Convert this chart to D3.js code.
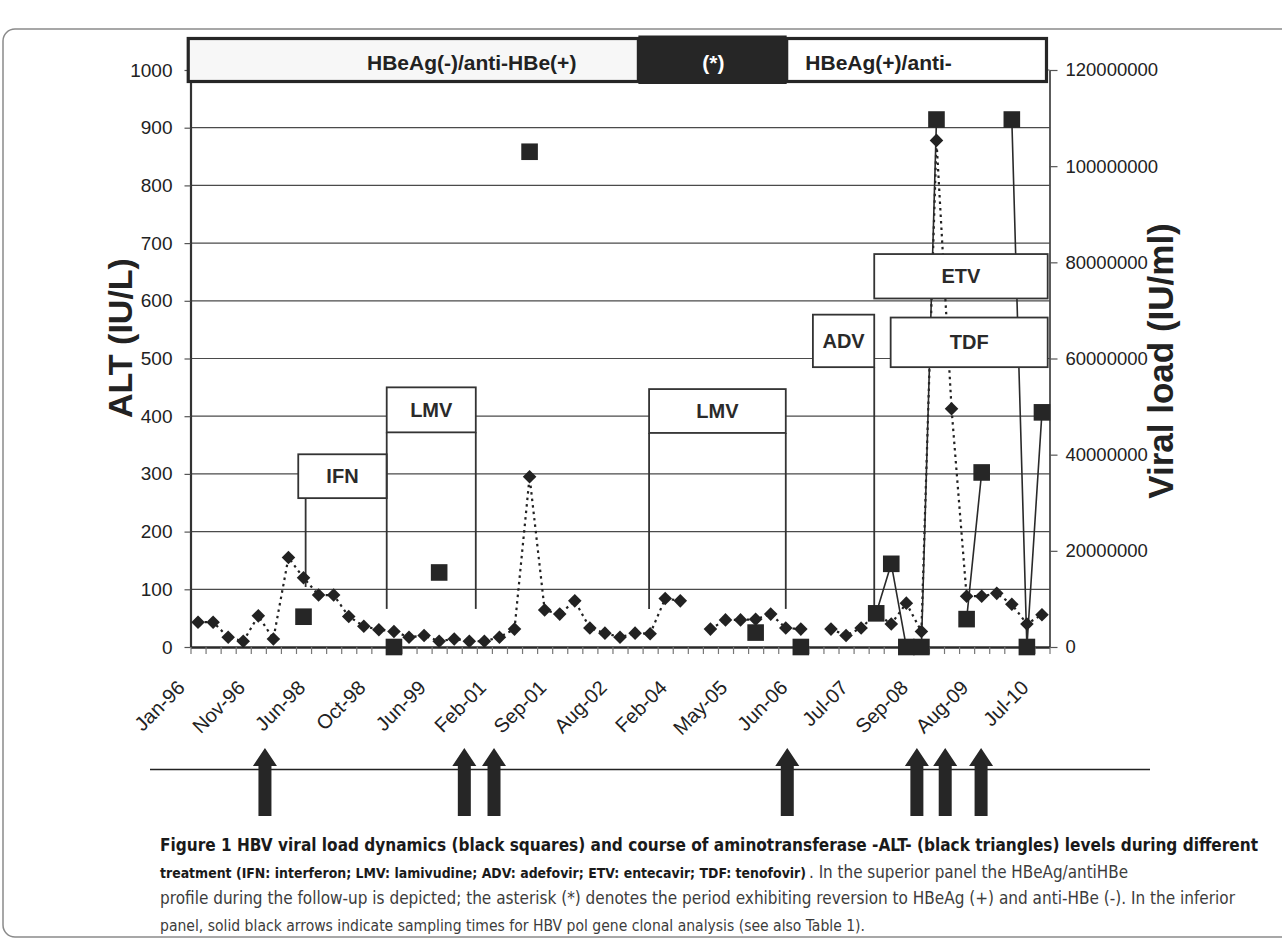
<!DOCTYPE html>
<html>
<head>
<meta charset="utf-8">
<script src="https://cdn.jsdelivr.net/npm/d3@7"></script>
<style>
  body { margin: 0; background: #fff; }
  svg { display: block; }
</style>
</head>
<body>
<script>
// HBV viral load / ALT figure

const tickLabels = ['Jan-96', 'Nov-96', 'Jun-98', 'Oct-98', 'Jun-99', 'Feb-01', 'Sep-01', 'Aug-02',
  'Feb-04', 'May-05', 'Jun-06', 'Jul-07', 'Sep-08', 'Aug-09', 'Jul-10'];
const altValues = [43, 43, 17, 10, 54, 14, 155, 120, 90, 90, 53, 36, 30, 27, 17, 20, 10, 14, 10, 10,
  17, 31, 295, 64, 57, 80, 33, 24, 17, 24, 23, 84, 80, null, 31, 47, 47, 48, 57, 33,
  31, null, 31, 20, 33, 58, 40, 76, 27, 878, 413, 88, 88, 93, 74, 40, 56];
const viralLoad = [null, null, null, null, null, null, null, 6300000, null, null, null, null, null, 0, null, null, 15500000, null, null, null,
  null, null, 103000000, null, null, null, null, null, null, null, null, null, null, null, null, null, null, 3000000, null, null,
  0, null, null, null, null, 7000000, 17300000, 0, 0, 109700000, null, 5800000, 36300000, null, 109700000, 0, 48800000];
const altTicks = [0, 100, 200, 300, 400, 500, 600, 700, 800, 900, 1000];
const vlTicks = [0, 20000000, 40000000, 60000000, 80000000, 100000000, 120000000];

// Treatment periods (category units / ALT units for the boxes)
const treatments = [
  { name: 'IFN', x0: 7.15, x1: 13.02, top: 334, bottom: 258, stems: [7.64], stemEnd: 104 },
  { name: 'LMV', x0: 13.02, x1: 18.93, top: 450, bottom: 372, stems: [13.02, 18.93], stemEnd: 66 },
  { name: 'LMV', x0: 30.43, x1: 39.5, top: 447, bottom: 371, stems: [30.43, 39.5], stemEnd: 66 },
  { name: 'ADV', x0: 41.3, x1: 45.37, top: 576, bottom: 485, stems: [45.37], stemEnd: 64 },
  { name: 'ETV', x0: 45.37, x1: 56.88, top: 681, bottom: 604, stems: [], stemEnd: 0 },
  { name: 'TDF', x0: 46.46, x1: 56.88, top: 571, bottom: 485, stems: [], stemEnd: 0 }
];
// HBeAg / anti-HBe status bar (category units)
const serology = [
  { label: 'HBeAg(-)/anti-HBe(+)', x0: -0.15, x1: 29.72, fill: '#f7f7f7', color: '#222', tx: 11.71, anchor: 'start' },
  { label: '(*)', x0: 29.72, x1: 39.56, fill: '#262626', color: '#fff', tx: 34.7, anchor: 'middle' },
  { label: 'HBeAg(+)/anti-', x0: 39.56, x1: 56.8, fill: '#fff', color: '#222', tx: 40.8, anchor: 'start' }
];
// Sampling times for clonal analysis (category units)
const samplings = [4.94, 18.17, 20.14, 39.6, 48.2, 50.08, 52.46];

// Caption pieces: line number, bold or not, and the span each takes
const caption = [
  { t: 'Figure 1 HBV viral load dynamics (black squares) and course of aminotransferase -ALT- (black triangles) levels during different', b: true, line: 0, x0: 160, x1: 1258 },
  { t: 'treatment (IFN: interferon; LMV: lamivudine; ADV: adefovir; ETV: entecavir; TDF: tenofovir)', b: true, line: 1, x0: 160, x1: 806 },
  { t: '. In the superior panel the HBeAg/antiHBe', b: false, line: 1, x0: 809, x1: 1128 },
  { t: 'profile during the follow-up is depicted; the asterisk (*) denotes the period exhibiting reversion to HBeAg (+) and anti-HBe (-). In the inferior', b: false, line: 2, x0: 160, x1: 1235 },
  { t: 'panel, solid black arrows indicate sampling times for HBV pol gene clonal analysis (see also Table 1).', b: false, line: 3, x0: 160, x1: 865 }
];

const W = 1282;
const H = 939;
const font = '"Liberation Sans", Arial, sans-serif';
const ink = '#222';

const svg = d3.select('body').append('svg').attr('width', W).attr('height', H);

// Scales
const nCat = altValues.length;
const x = d3.scaleLinear().domain([0, nCat]).range([190.5, 1049.5]);
const cx = (i) => x(i + 0.5);
const yAlt = d3.scaleLinear().domain([0, 1000]).range([647, 70]);
const yVl = d3.scaleLinear().domain([0, 120000000]).range([647, 70]);

// Figure frame
svg.append('rect')
  .attr('x', 3).attr('y', 29)
  .attr('width', 1300).attr('height', 908)
  .attr('rx', 12)
  .attr('fill', 'none')
  .attr('stroke', '#8a8a8a')
  .attr('stroke-width', 1.5);

// Gridlines
svg.append('g')
  .selectAll('line')
  .data(altTicks.filter((d) => d > 0))
  .join('line')
  .attr('x1', x(0)).attr('x2', x(nCat))
  .attr('y1', (d) => yAlt(d)).attr('y2', (d) => yAlt(d))
  .attr('stroke', '#4a4a4a')
  .attr('stroke-width', 1.2);

// Left axis
const leftAxis = svg.append('g')
  .attr('transform', `translate(${x(0)},0)`)
  .call(d3.axisLeft(yAlt).tickValues(altTicks).tickFormat(d3.format('d')).tickSize(6).tickPadding(12).tickSizeOuter(0));
leftAxis.select('.domain').attr('stroke', '#333').attr('stroke-width', 2.2);
leftAxis.selectAll('.tick line').attr('stroke', '#555').attr('stroke-width', 1.2);
leftAxis.selectAll('text').attr('font-family', font).attr('font-size', 19).attr('fill', ink);

// Right axis
const rightAxis = svg.append('g')
  .attr('transform', `translate(${x(nCat)},0)`)
  .call(d3.axisRight(yVl).tickValues(vlTicks).tickFormat(d3.format('d')).tickSize(8).tickPadding(8).tickSizeOuter(0));
rightAxis.select('.domain').attr('stroke', '#333').attr('stroke-width', 1.6);
rightAxis.selectAll('.tick line').attr('stroke', '#555').attr('stroke-width', 1.2);
rightAxis.selectAll('text').attr('font-family', font).attr('font-size', 18.5).attr('fill', ink);

// Bottom axis: ticks between categories, labels every 4th category
const bottomAxis = svg.append('g')
  .attr('transform', `translate(0,${yAlt(0)})`)
  .call(d3.axisBottom(x).tickValues(d3.range(0, nCat + 1)).tickFormat('').tickSize(7).tickSizeOuter(0));
bottomAxis.select('.domain').attr('stroke', '#2a2a2a').attr('stroke-width', 2.6);
bottomAxis.selectAll('.tick line').attr('stroke', '#777').attr('stroke-width', 1.2);

svg.append('g')
  .selectAll('text')
  .data(tickLabels)
  .join('text')
  .attr('transform', (d, k) => `translate(${cx(k * 4) - 12},689) rotate(-45)`)
  .attr('text-anchor', 'end')
  .attr('font-family', font)
  .attr('font-size', 20)
  .attr('fill', ink)
  .text((d) => d);

// Axis titles
svg.append('text')
  .attr('transform', 'translate(132,338) rotate(-90)')
  .attr('text-anchor', 'middle')
  .attr('font-family', font)
  .attr('font-size', 34)
  .attr('font-weight', 'bold')
  .attr('fill', ink)
  .text('ALT (IU/L)');

svg.append('text')
  .attr('transform', 'translate(1173,361) rotate(-90)')
  .attr('text-anchor', 'middle')
  .attr('font-family', font)
  .attr('font-size', 35)
  .attr('font-weight', 'bold')
  .attr('fill', ink)
  .text('Viral load (IU/ml)');

// ALT dotted line
const altPoints = altValues.map((v, i) => ({ i, v }));
svg.append('path')
  .datum(altPoints)
  .attr('d', d3.line().defined((d) => d.v != null).x((d) => cx(d.i)).y((d) => yAlt(d.v)))
  .attr('fill', 'none')
  .attr('stroke', '#222')
  .attr('stroke-width', 2.2)
  .attr('stroke-dasharray', '2.5,4');

// Viral load solid line
const vlPoints = viralLoad.map((v, i) => ({ i, v }));
svg.append('path')
  .datum(vlPoints)
  .attr('d', d3.line().defined((d) => d.v != null).x((d) => cx(d.i)).y((d) => yVl(d.v)))
  .attr('fill', 'none')
  .attr('stroke', '#2a2a2a')
  .attr('stroke-width', 1.6);

// Treatment boxes with their stems
const tg = svg.append('g');
treatments.forEach((t) => {
  t.stems.forEach((s) => {
    tg.append('line')
      .attr('x1', x(s)).attr('x2', x(s))
      .attr('y1', yAlt(t.bottom)).attr('y2', yAlt(t.stemEnd))
      .attr('stroke', '#333')
      .attr('stroke-width', 1.8);
  });
  tg.append('rect')
    .attr('x', x(t.x0)).attr('y', yAlt(t.top))
    .attr('width', x(t.x1) - x(t.x0))
    .attr('height', yAlt(t.bottom) - yAlt(t.top))
    .attr('fill', '#fff')
    .attr('stroke', '#333')
    .attr('stroke-width', 1.8);
  tg.append('text')
    .attr('x', (x(t.x0) + x(t.x1)) / 2)
    .attr('y', (yAlt(t.top) + yAlt(t.bottom)) / 2 + 7)
    .attr('text-anchor', 'middle')
    .attr('font-family', font)
    .attr('font-size', 20)
    .attr('font-weight', 'bold')
    .attr('fill', '#2a2a2a')
    .text(t.name);
});

// ALT markers (diamonds)
svg.append('g')
  .selectAll('rect')
  .data(altPoints.filter((d) => d.v != null))
  .join('rect')
  .attr('x', -4.8).attr('y', -4.8)
  .attr('width', 9.6).attr('height', 9.6)
  .attr('transform', (d) => `translate(${cx(d.i)},${yAlt(d.v)}) rotate(45)`)
  .attr('fill', '#222');

// Viral load markers (squares)
svg.append('g')
  .selectAll('rect')
  .data(vlPoints.filter((d) => d.v != null))
  .join('rect')
  .attr('x', (d) => cx(d.i) - 8.3)
  .attr('y', (d) => yVl(d.v) - 8.3)
  .attr('width', 16.6).attr('height', 16.6)
  .attr('fill', '#262626');

// Serology status bar
const sg = svg.append('g');
sg.append('rect')
  .attr('x', x(serology[0].x0)).attr('y', 38.5)
  .attr('width', x(serology[2].x1) - x(serology[0].x0)).attr('height', 43)
  .attr('fill', '#fff');
serology.forEach((s, k) => {
  const dark = k === 1;
  sg.append('rect')
    .attr('x', x(s.x0)).attr('y', dark ? 35.5 : 38.5)
    .attr('width', x(s.x1) - x(s.x0)).attr('height', dark ? 48.5 : 43)
    .attr('fill', s.fill)
    .attr('stroke', dark ? 'none' : '#262626')
    .attr('stroke-width', 3.2);
  sg.append('text')
    .attr('x', x(s.tx)).attr('y', 69.5)
    .attr('text-anchor', s.anchor)
    .attr('font-family', font)
    .attr('font-size', 21)
    .attr('font-weight', 'bold')
    .attr('fill', s.color)
    .text(s.label);
});

// Sampling arrows
svg.append('line')
  .attr('x1', 150).attr('x2', 1150)
  .attr('y1', 769.5).attr('y2', 769.5)
  .attr('stroke', '#222')
  .attr('stroke-width', 1.5);

svg.append('g')
  .selectAll('path')
  .data(samplings)
  .join('path')
  .attr('d', (d) => {
    const ax = x(d);
    return `M${ax},748 L${ax + 12},766 L${ax + 6.5},766 L${ax + 6.5},816 ` +
      `L${ax - 6.5},816 L${ax - 6.5},766 L${ax - 12},766 Z`;
  })
  .attr('fill', '#262626');

// Caption: shrink a piece if it is too wide for its span, then fit it exactly
const capFont = '"Liberation Sans Narrow", "DejaVu Sans Condensed", "Open Sans", sans-serif';
svg.append('g')
  .selectAll('text')
  .data(caption)
  .join('text')
  .attr('x', (d) => d.x0)
  .attr('y', (d) => 851 + d.line * 26.5)
  .attr('font-family', capFont)
  .attr('font-size', 17)
  .attr('font-weight', (d) => (d.b ? 'bold' : 'normal'))
  .attr('fill', (d) => (d.b ? '#1a1a1a' : '#3c3c3c'))
  .text((d) => d.t)
  .each(function (d) {
    const span = d.x1 - d.x0;
    const natural = this.getComputedTextLength();
    if (natural > span) {
      d3.select(this).attr('font-size', 17 * span / natural);
    }
    d3.select(this)
      .attr('textLength', span)
      .attr('lengthAdjust', 'spacingAndGlyphs');
  });
</script>
</body>
</html>
